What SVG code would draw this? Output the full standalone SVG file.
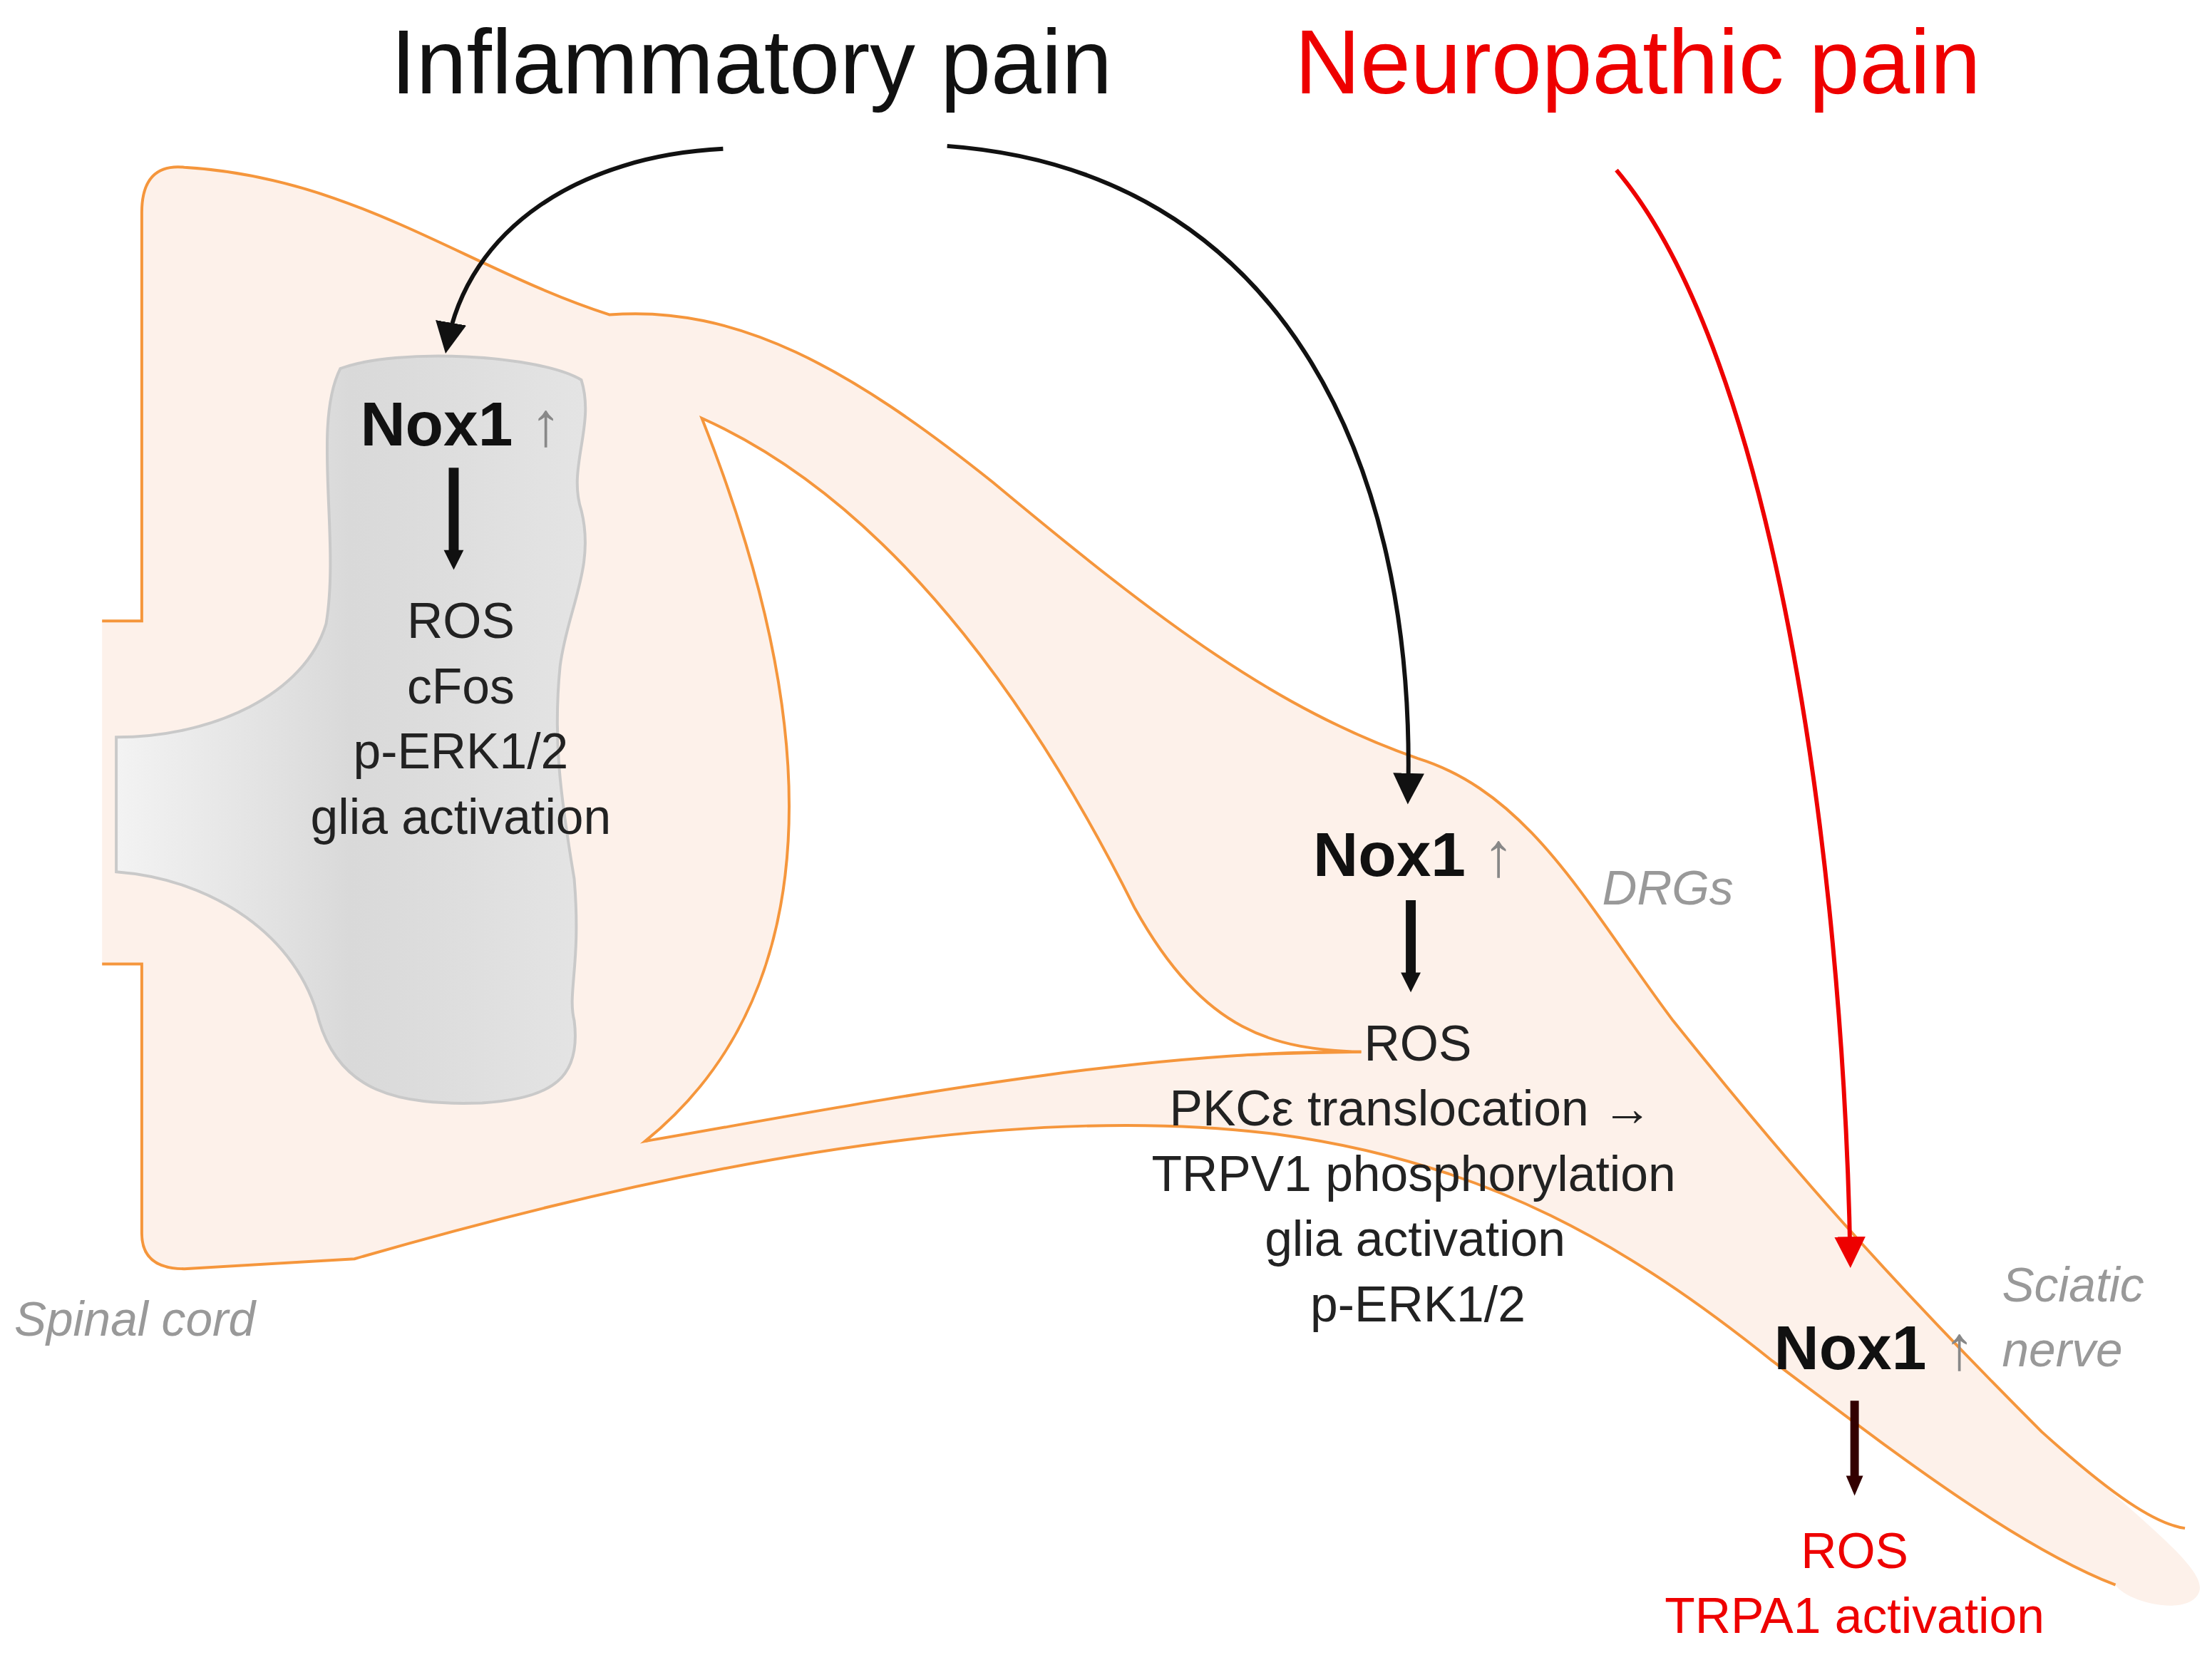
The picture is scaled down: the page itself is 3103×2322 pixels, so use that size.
<svg xmlns="http://www.w3.org/2000/svg" width="3103" height="2322" viewBox="0 0 3103 2322">
<defs>
<style>
.ln{fill:none;stroke:#f5963c;stroke-width:2}
.t{font-family:"Liberation Sans",Arial,sans-serif;text-anchor:middle}
.lbl{font-size:35px;fill:#222}
.nox{font-size:44px;font-weight:bold;fill:#111}
.up{font-weight:normal;fill:#888}
.gray{font-size:34px;fill:#999;font-style:italic;font-family:"Liberation Sans",Arial,sans-serif}
</style>
<linearGradient id="gm" x1="0" x2="1" y1="0" y2="0">
<stop offset="0" stop-color="#f3f3f3"/><stop offset="0.5" stop-color="#d9d9d9"/><stop offset="1" stop-color="#e4e4e4"/>
</linearGradient>
<marker id="ak" viewBox="0 0 10 10" refX="8" refY="5" markerWidth="22" markerHeight="22" orient="auto" markerUnits="userSpaceOnUse"><path d="M0,0 L10,5 L0,10z" fill="#111"/></marker>
<marker id="ar" viewBox="0 0 10 10" refX="8" refY="5" markerWidth="22" markerHeight="22" orient="auto" markerUnits="userSpaceOnUse"><path d="M0,0 L10,5 L0,10z" fill="#e00"/></marker>
</defs>
<rect width="3103" height="2322" fill="#fff"/>
<g transform="scale(1.989)">
<g id="anatomy">
<path fill="#fdf1ea" d="M100,438 L100,150 Q100,115 130,118 C250,125 330,190 430,222 C520,215 600,260 700,340 C820,440 900,500 1000,535 C1080,560 1120,640 1180,720 C1260,820 1330,900 1440,1010 C1520,1080 1560,1110 1550,1125 C1540,1140 1500,1130 1492,1118 C1420,1090 1330,1020 1250,960 C1150,880 1050,820 900,800 C700,775 450,830 250,888 L130,895 Q100,895 100,870 L100,680 L72,680 L72,438 Z"/>
<path class="ln" d="M72,438 L100,438 L100,150 Q100,115 130,118 C250,125 330,190 430,222 C520,215 600,260 700,340 C820,440 900,500 1000,535 C1080,560 1120,640 1180,720 C1260,820 1330,900 1440,1010 C1490,1055 1520,1075 1541,1078"/>
<path class="ln" d="M72,680 L100,680 L100,870 Q100,895 130,895 L250,888 C450,830 700,775 900,800 C1050,820 1150,880 1250,960 C1330,1020 1420,1090 1492,1118"/>
<path class="ln" d="M455,805 C540,780 700,745 960,742"/>
<path class="ln" style="fill:#fff" d="M495,295 C640,360 740,520 800,640 C850,730 900,740 960,742 C800,740 600,780 455,805 C560,720 600,560 495,295 Z"/>
<path d="M240,260 C280,245 380,250 410,268 C420,300 400,330 410,360 C420,400 400,430 395,470 C390,520 395,560 405,620 C410,680 400,700 405,720 C410,760 390,775 340,778 C280,780 240,770 225,720 C210,660 150,620 82,615 L82,520 C150,520 215,490 230,440 C240,380 220,300 240,260 Z" fill="url(#gm)" stroke="#c9c9c9" stroke-width="2"/>
</g>
<g id="connectors" fill="none">
<path d="M510,105 C410,110 330,160 315,245" stroke="#111" stroke-width="3" marker-end="url(#ak)"/>
<path d="M668,103 C900,120 1000,320 993,563" stroke="#111" stroke-width="3" marker-end="url(#ak)"/>
<path d="M1140,120 C1250,250 1300,600 1305,890" stroke="#e00" stroke-width="3" marker-end="url(#ar)"/>
<path d="M320,330 L320,390" stroke="#111" stroke-width="7"/>
<path d="M313,388 L327,388 L320,402 Z" fill="#111"/>
<path d="M995,635 L995,688" stroke="#111" stroke-width="7"/>
<path d="M988,686 L1002,686 L995,700 Z" fill="#111"/>
<path d="M1308,988 L1308,1043" stroke="#300" stroke-width="6"/>
<path d="M1302,1041 L1314,1041 L1308,1055 Z" fill="#300"/>
</g>
<g id="titles">
<text class="t" x="530" y="66" font-size="64" fill="#111">Inflammatory pain</text>
<text class="t" x="1155" y="66" font-size="64" fill="#e00">Neuropathic pain</text>
</g>
<g id="spinal">
<text class="t nox" x="325" y="314">Nox1 <tspan class="up">↑</tspan></text>
<text class="t lbl" x="325" y="450">ROS</text>
<text class="t lbl" x="325" y="496">cFos</text>
<text class="t lbl" x="325" y="542">p-ERK1/2</text>
<text class="t lbl" x="325" y="588">glia activation</text>
<text class="gray" x="10" y="942">Spinal cord</text>
</g>
<g id="drg">
<text class="t nox" x="997" y="618">Nox1 <tspan class="up">↑</tspan></text>
<text class="t lbl" x="1000" y="748">ROS</text>
<text class="t lbl" x="995" y="794">PKCε translocation →</text>
<text class="t lbl" x="997" y="840">TRPV1 phosphorylation</text>
<text class="t lbl" x="998" y="886">glia activation</text>
<text class="t lbl" x="1000" y="932">p-ERK1/2</text>
<text class="gray" x="1130" y="638">DRGs</text>
</g>
<g id="sciatic">
<text class="t nox" x="1322" y="966">Nox1 <tspan class="up">↑</tspan></text>
<text class="t" x="1308" y="1106" font-size="35" fill="#e00">ROS</text>
<text class="t" x="1308" y="1152" font-size="35" fill="#e00">TRPA1 activation</text>
<text class="gray" x="1412" y="918">Sciatic</text>
<text class="gray" x="1412" y="964">nerve</text>
</g>
</g>
</svg>
